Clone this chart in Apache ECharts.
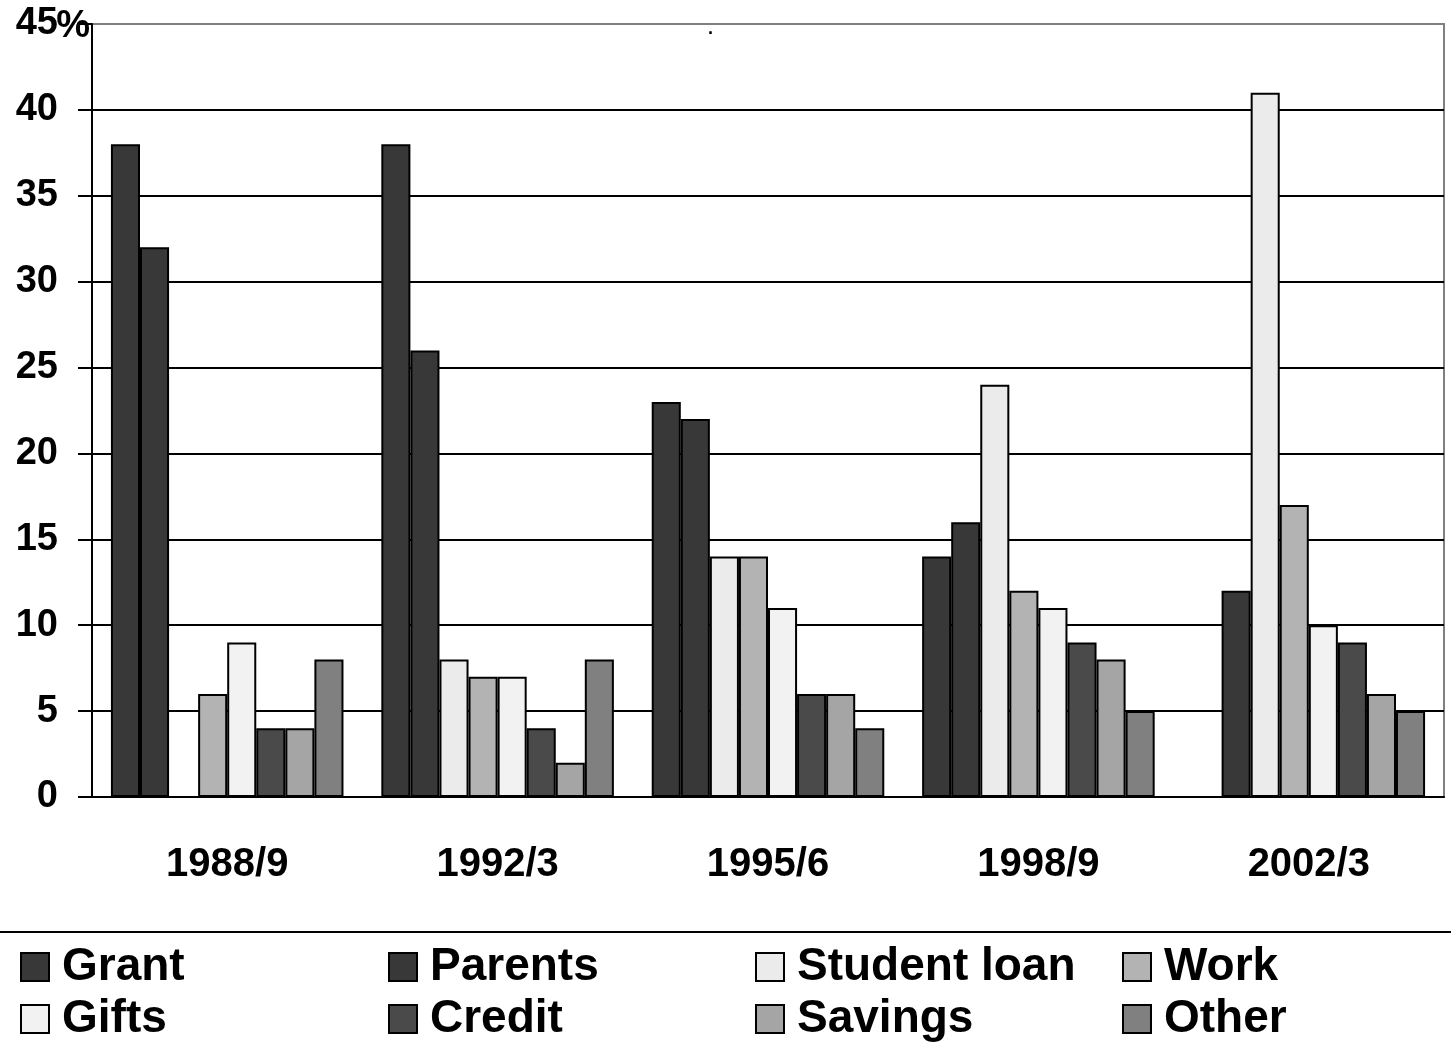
<!DOCTYPE html>
<html>
<head>
<meta charset="utf-8">
<title>Student income sources</title>
<script src="https://cdn.jsdelivr.net/npm/echarts@6/dist/echarts.min.js"></script>
<style>
  html, body { margin: 0; padding: 0; background: #fff; }
  #chart { width: 1451px; height: 1047px; }
</style>
</head>
<body>
<div id="chart"></div>
<script>
// data (percent)
const years = ['1988/9', '1992/3', '1995/6', '1998/9', '2002/3']
const seriesNames = ['Grant', 'Parents', 'Student loan', 'Work', 'Gifts', 'Credit', 'Savings', 'Other']
const grant = [38, 38, 23, 14, '-']
const parents = [32, 26, 22, 16, 12]
const studentLoan = ['-', 8, 14, 24, 41]
const work = [6, 7, 14, 12, 17]
const gifts = [9, 7, 11, 11, 10]
const credit = [4, 4, 6, 9, 9]
const savings = [4, 2, 6, 8, 6]
const other = [8, 8, 4, 5, 5]
const yTicks = [0, 5, 10, 15, 20, 25, 30, 35, 40, 45]

const values = [grant, parents, studentLoan, work, gifts, credit, savings, other]
const fills = ['#383838', '#383838', '#ebebeb', '#b3b3b3', '#f2f2f2', '#4a4a4a', '#a5a5a5', '#808080']
const font = "'Liberation Sans', Arial, sans-serif"

const myChart = echarts.init(document.getElementById('chart'))

// one legend per item so the columns line up like the original
const legendCols = [20, 388, 755, 1122]
const legendRows = [944, 996]
const legends = seriesNames.map(function(name, i) {
  return {
    data: [name],
    left: legendCols[i % 4],
    top: legendRows[Math.floor(i / 4)],
    padding: 0,
    itemWidth: 28,
    itemHeight: 28,
    icon: 'rect',
    selectedMode: false,
    textStyle: {
      fontFamily: font,
      fontWeight: 'bold',
      fontSize: 46,
      color: '#000',
      padding: [0, 0, 0, 8]
    }
  }
})

myChart.setOption({
  animation: false,
  backgroundColor: '#fff',
  title: {
    text: '.',
    left: 703,
    top: 15,
    textStyle: { fontFamily: font, fontSize: 18, fontWeight: 'bold', color: '#000' }
  },
  grid: {
    left: 92,
    right: 7,
    top: 24,
    bottom: 250,
    outerBoundsMode: 'none',
    show: true,
    borderColor: '#808080',
    borderWidth: 2
  },
  legend: legends,
  graphic: [
    {
      type: 'line',
      shape: { x1: 0, y1: 932, x2: 1451, y2: 932 },
      style: { stroke: '#000', lineWidth: 2 }
    }
  ],
  xAxis: {
    type: 'category',
    data: years,
    axisLine: { lineStyle: { color: '#000', width: 2 } },
    axisTick: { length: 11, lineStyle: { color: '#000', width: 2 } },
    axisLabel: {
      margin: 48,
      fontFamily: font,
      fontWeight: 'bold',
      fontSize: 40,
      color: '#000'
    }
  },
  yAxis: {
    type: 'value',
    min: yTicks[0],
    max: yTicks[yTicks.length - 1],
    interval: 5,
    // the "%" sits right after the top label, like the original
    name: '%',
    nameLocation: 'end',
    nameGap: -3,
    nameMoveOverlap: false,
    nameTextStyle: {
      fontFamily: font,
      fontWeight: 'bold',
      fontSize: 38,
      color: '#000',
      align: 'right',
      verticalAlign: 'middle',
      padding: [0, 2, 0, 0]
    },
    axisLine: { show: true, lineStyle: { color: '#000', width: 2 } },
    axisTick: { show: true, length: 14, lineStyle: { color: '#000', width: 2 } },
    axisLabel: {
      margin: 34,
      align: 'right',
      fontFamily: font,
      fontWeight: 'bold',
      fontSize: 38,
      color: '#000'
    },
    splitLine: {
      showMaxLine: false,
      lineStyle: { color: '#000', width: 2 }
    }
  },
  series: seriesNames.map(function(name, i) {
    return {
      name: name,
      type: 'bar',
      data: values[i],
      barGap: '0%',
      barCategoryGap: '14%',
      itemStyle: {
        color: fills[i],
        borderColor: '#000',
        borderWidth: 2
      }
    }
  })
})
</script>
</body>
</html>
